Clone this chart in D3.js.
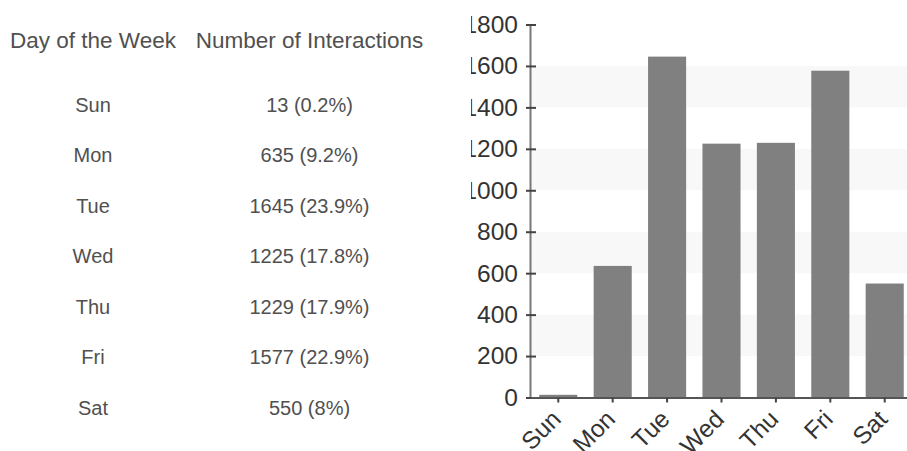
<!DOCTYPE html>
<html>
<head>
<meta charset="utf-8">
<script src="https://cdn.jsdelivr.net/npm/d3@7/dist/d3.min.js"></script>
<style>
  html, body { margin: 0; padding: 0; background: #fff; }
  svg { display: block; }
  text { font-family: "Liberation Sans", Arial, sans-serif; }
</style>
</head>
<body>
<svg id="page" width="907" height="451"></svg>
<script>
// ---- data ----
const days = ["Sun", "Mon", "Tue", "Wed", "Thu", "Fri", "Sat"];
const counts = [13, 635, 1645, 1225, 1229, 1577, 550];
const percents = ["0.2%", "9.2%", "23.9%", "17.8%", "17.9%", "22.9%", "8%"];
const headers = ["Day of the Week", "Number of Interactions"];
const yTicks = [0, 200, 400, 600, 800, 1000, 1200, 1400, 1600, 1800];

const page = d3.select("#page");

// ---- table ----
const colX = [93, 309.5];
const table = page.append("g").attr("fill", "#505050");
table.selectAll("text.h").data(headers).join("text")
  .attr("class", "h")
  .attr("x", (d, i) => colX[i]).attr("y", 47.5)
  .attr("text-anchor", "middle").attr("font-size", 22.5)
  .text(d => d);

const rowY = d3.scalePoint().domain(days).range([111.5, 415]);
const rows = table.selectAll("g.row").data(days).join("g").attr("class", "row");
rows.append("text").attr("x", colX[0]).attr("y", d => rowY(d))
  .attr("text-anchor", "middle").attr("font-size", 20).text(d => d);
rows.append("text").attr("x", colX[1]).attr("y", d => rowY(d))
  .attr("text-anchor", "middle").attr("font-size", 20)
  .text((d, i) => `${counts[i]} (${percents[i]})`);

// ---- chart ----
const clipX = 471;
const axisX = 530;
const chartSvg = page.append("svg").attr("x", clipX).attr("y", 0)
  .attr("width", 907 - clipX).attr("height", 451);
const g = chartSvg.append("g").attr("transform", `translate(${axisX - clipX},0)`);

const y = d3.scaleLinear().domain([0, 1800]).range([397.5, 24.5]);
const x = d3.scaleBand().domain(days).range([0, 383]).paddingInner(0.3).paddingOuter(0.17);

// alternating bands
const bandPairs = d3.pairs(yTicks).filter((p, i) => i % 2 === 1);
g.selectAll("rect.band").data(bandPairs).join("rect").attr("class", "band")
  .attr("x", 0).attr("width", 400)
  .attr("y", d => y(d[1])).attr("height", d => y(d[0]) - y(d[1]))
  .attr("fill", "#f8f8f8");

// bars
g.selectAll("rect.bar").data(days).join("rect").attr("class", "bar")
  .attr("x", d => x(d)).attr("width", x.bandwidth())
  .attr("y", (d, i) => y(counts[i])).attr("height", (d, i) => y(0) - y(counts[i]))
  .attr("fill", "#808080");

// y axis
const yAxis = g.append("g").call(d3.axisLeft(y).tickValues(yTicks).tickFormat(d3.format("d"))
  .tickSize(0).tickSizeOuter(0).tickPadding(12));
yAxis.select(".domain").attr("stroke", "#777").attr("stroke-width", 2);
yAxis.selectAll(".tick line").attr("x1", -4).attr("x2", 6).attr("stroke", "#444").attr("stroke-width", 2);
yAxis.selectAll(".tick text").attr("font-size", 24.5).attr("fill", "#333")
  .attr("font-family", "'Liberation Sans', Arial, sans-serif");

// x axis
const xAxis = g.append("g").attr("transform", `translate(0,${y(0)})`)
  .call(d3.axisBottom(x).tickSize(5).tickSizeOuter(0));
xAxis.select(".domain").attr("stroke", "#555").attr("stroke-width", 2);
xAxis.selectAll(".tick line").attr("stroke", "#444").attr("stroke-width", 2);
xAxis.selectAll(".tick text").attr("font-size", 24.5).attr("fill", "#333")
  .attr("font-family", "'Liberation Sans', Arial, sans-serif")
  .attr("text-anchor", "end")
  .attr("y", 0).attr("dy", "0.35em")
  .attr("transform", "translate(-2,17) rotate(-45)");
</script>
</body>
</html>
